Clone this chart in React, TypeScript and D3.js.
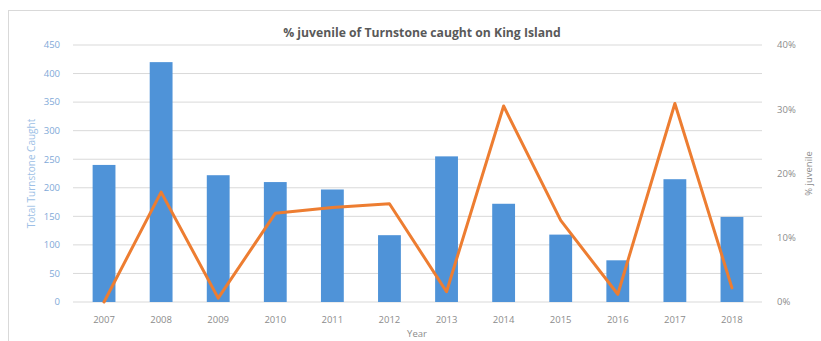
import React from "react";
import * as d3 from "d3";

const years = ["2007", "2008", "2009", "2010", "2011", "2012", "2013", "2014", "2015", "2016", "2017", "2018"];
const totalCaught = [240, 420, 222, 210, 197, 117, 255, 172, 118, 73, 215, 149];
const pctJuvenile = [0.0, 17.1, 0.6, 13.8, 14.7, 15.3, 1.6, 30.5, 12.7, 1.2, 30.9, 2.2];
const leftTicks = [0, 50, 100, 150, 200, 250, 300, 350, 400, 450];
const rightTicks = [0, 10, 20, 30, 40];

const W = 821;
const H = 341;
const margin = { left: 73, right: 59, top: 45, bottom: 39 };

export default function App() {
  const x = d3
    .scaleBand<string>()
    .domain(years)
    .range([75.5, 760.5])
    .paddingInner(0.6)
    .paddingOuter(0.3);
  const yL = d3.scaleLinear().domain([0, 450]).range([H - margin.bottom, margin.top]);
  const yR = d3.scaleLinear().domain([0, 40]).range([H - margin.bottom, margin.top]);

  const line = d3
    .line<number>()
    .x((_, i) => (x(years[i]) as number) + x.bandwidth() / 2)
    .y((d) => yR(d));

  const font = "'Open Sans', 'Liberation Sans', sans-serif";

  return (
    <svg
      width={W}
      height={H}
      style={{ position: "absolute", left: 0, top: 0, background: "#fff" }}
      fontFamily={font}
    >
      {/* chart frame */}
      <rect x={8.5} y={10.5} width={W + 10} height={H + 10} fill="#fff" stroke="#d9d9d9" />

      {/* gridlines */}
      {leftTicks.map((t) => (
        <line
          key={t}
          x1={margin.left}
          x2={W - margin.right}
          y1={yL(t)}
          y2={yL(t)}
          stroke="#d9d9d9"
          strokeWidth={1}
        />
      ))}

      {/* bars */}
      {years.map((yr, i) => (
        <rect
          key={yr}
          x={x(yr)}
          y={yL(totalCaught[i])}
          width={x.bandwidth()}
          height={yL(0) - yL(totalCaught[i])}
          fill="#4f93d8"
        />
      ))}

      {/* juvenile percentage line */}
      <path d={line(pctJuvenile) ?? ""} fill="none" stroke="#ed7d31" strokeWidth={3} strokeLinejoin="round" strokeLinecap="round" />

      {/* left axis labels */}
      {leftTicks.map((t) => (
        <text key={t} x={60} y={yL(t)} dy="0.35em" textAnchor="end" fontSize={9.5} fill="#7fa9d8">
          {t}
        </text>
      ))}

      {/* right axis labels */}
      {rightTicks.map((t) => (
        <text key={t} x={777} y={yR(t)} dy="0.35em" textAnchor="start" fontSize={9.5} fill="#8c8c8c">
          {t}%
        </text>
      ))}

      {/* x axis labels */}
      {years.map((yr) => (
        <text
          key={yr}
          x={(x(yr) as number) + x.bandwidth() / 2}
          y={320}
          dy="0.35em"
          textAnchor="middle"
          fontSize={9.5}
          fill="#8c8c8c"
        >
          {yr}
        </text>
      ))}

      {/* axis titles */}
      <text
        transform={`translate(31,${(margin.top + H - margin.bottom) / 2}) rotate(-90)`}
        textAnchor="middle"
        dy="0.35em"
        fontSize={10}
        fill="#9dbfe6"
      >
        Total Turnstone Caught
      </text>
      <text
        transform={`translate(809,${(margin.top + H - margin.bottom) / 2}) rotate(-90)`}
        textAnchor="middle"
        dy="0.35em"
        fontSize={9.5}
        fill="#8c8c8c"
      >
        % juvenile
      </text>
      <text x={417} y={334} dy="0.35em" textAnchor="middle" fontSize={9.5} fill="#8c8c8c">
        Year
      </text>

      {/* title */}
      <text x={422} y={33} dy="0.35em" textAnchor="middle" fontSize={12.2} fontWeight="bold" fill="#595959">
        % juvenile of Turnstone caught on King Island
      </text>
    </svg>
  );
}
